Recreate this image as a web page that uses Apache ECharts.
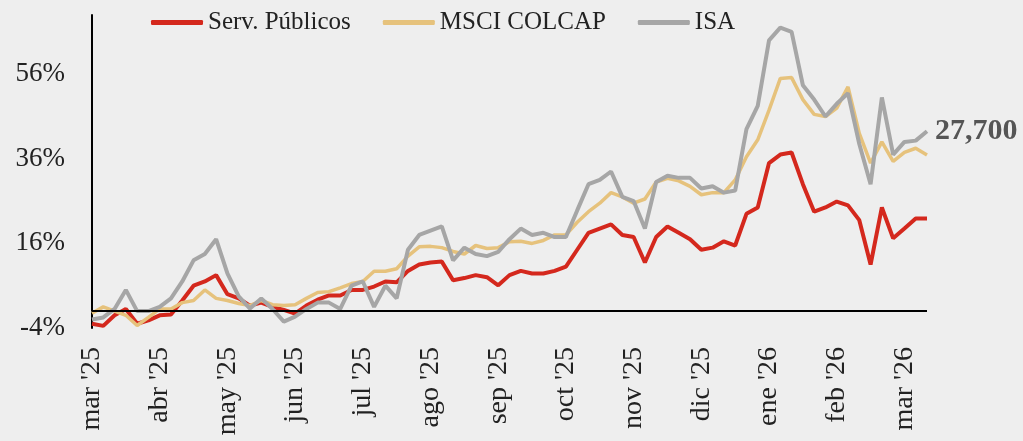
<!DOCTYPE html>
<html>
<head>
<meta charset="utf-8">
<script src="https://cdn.jsdelivr.net/npm/echarts@6/dist/echarts.min.js"></script>
<style>
  html, body { margin: 0; padding: 0; background: #eeeeee; }
  #chart { width: 1023px; height: 441px; }
</style>
</head>
<body>
<div id="chart"></div>
<script>
// month tick labels, one per month starting at mar '25
const monthLabels = ["mar '25", "abr '25", "may '25", "jun '25", "jul '25", "ago '25", "sep '25",
  "oct '25", "nov '25", "dic '25", "ene '26", "feb '26", "mar '26"];

// values read every ~1/6 of a month (%)
const servPublicos = [-3, -3.5, -1, 0.5, -3, -2.2, -1, -0.8, 2.5, 6, 7, 8.5, 4, 3, 1.3, 2, 1, 0.3, -0.6, 1.3,
  2.7, 3.7, 3.7, 5, 5, 5.8, 7, 6.8, 9.5, 11, 11.5, 11.7, 7.3, 7.8, 8.5, 8, 6.1, 8.5, 9.5, 8.9,
  8.9, 9.5, 10.5, 14.5, 18.5, 19.5, 20.5, 18, 17.5, 11.5, 17.5, 20, 18.5, 17, 14.5, 15, 16.5, 15.5, 23, 24.5,
  35, 37, 37.5, 30, 23.5, 24.5, 25.9, 25, 21.5, 11, 24.5, 17.2, 19.5, 21.9, 21.9];

const colcap = [-0.5, 1, 0, -1, -3.4, -1.5, 0.5, 0.5, 2, 2.5, 5, 3, 2.5, 1.8, 1.3, 2.5, 1.5, 1.3, 1.5, 3,
  4.4, 4.6, 5.5, 6.5, 7, 9.4, 9.4, 10, 13, 15.2, 15.3, 15, 14.1, 13.5, 15.5, 14.8, 15, 16.4, 16.5, 16,
  16.7, 18, 18, 21, 23.5, 25.5, 28, 27, 25.5, 26.5, 30.5, 31.4, 30.8, 29.5, 27.5, 28, 28, 31, 36.5, 40.5,
  47.5, 55, 55.2, 50, 46.5, 46, 48, 53, 42, 35, 40, 35.4, 37.5, 38.5, 36.9];

const isa = [-2, -1.5, 0.5, 5, 0, 0, 1, 3, 7, 12, 13.5, 17, 8.9, 3.5, 0.6, 3, 0.5, -2.5, -1.3, 0.5,
  2, 2, 0.5, 6, 7, 1, 6, 3, 14.5, 18, 19, 20, 12, 15, 13.5, 13, 14, 17, 19.5, 18,
  18.5, 17.5, 17.5, 23.8, 30, 31, 33, 27, 26, 19.5, 30.5, 32, 31.5, 31.5, 29, 29.5, 28, 28.5, 43, 48.5,
  64, 67, 66, 53.4, 50, 46, 49, 51.5, 39.5, 30, 50.5, 37, 40, 40.3, 42.5];

const isaLast = '27,700';

const STEP = 1 / 6;
const toPoints = (arr) => arr.map((v, i) => [i * STEP, v]);

const font = 'Liberation Serif';

let myChart = echarts.init(document.getElementById('chart'));
myChart.setOption({
  backgroundColor: '#eeeeee',
  animation: false,
  textStyle: { fontFamily: font },
  legend: {
    left: 146,
    top: 5,
    icon: 'roundRect',
    itemWidth: 52,
    itemHeight: 5,
    itemGap: 32,
    textStyle: { fontFamily: font, fontSize: 25, color: '#222' },
    data: ['Serv. Públicos', 'MSCI COLCAP', 'ISA']
  },
  grid: {
    left: 92,
    right: 96,
    top: 15,
    bottom: 113
  },
  xAxis: {
    type: 'value',
    min: 0,
    max: (isa.length - 1) * STEP,
    interval: 1,
    axisLine: { show: false },
    axisTick: { show: false },
    splitLine: { show: false },
    axisLabel: {
      rotate: 90,
      margin: 19,
      showMaxLabel: false,
      fontFamily: font,
      fontSize: 28,
      color: '#222',
      formatter: (v) => monthLabels[v] || ''
    }
  },
  yAxis: {
    type: 'value',
    min: -4,
    max: 70,
    interval: 20,
    axisLine: { show: true, lineStyle: { color: '#000', width: 2 } },
    axisTick: { show: false },
    splitLine: { show: false },
    axisLabel: {
      margin: 27,
      showMaxLabel: false,
      fontFamily: font,
      fontSize: 27,
      color: '#222',
      formatter: '{value}%'
    }
  },
  series: [
    {
      name: 'Serv. Públicos',
      type: 'line',
      showSymbol: false,
      color: '#d4281d',
      lineStyle: { width: 4 },
      data: toPoints(servPublicos),
      markLine: {
        silent: true,
        symbol: 'none',
        label: { show: false },
        lineStyle: { color: '#000', width: 2, type: 'solid' },
        data: [{ yAxis: 0 }]
      }
    },
    {
      name: 'MSCI COLCAP',
      type: 'line',
      showSymbol: false,
      color: '#e6c27c',
      lineStyle: { width: 3.5 },
      data: toPoints(colcap)
    },
    {
      name: 'ISA',
      type: 'line',
      showSymbol: false,
      color: '#a6a6a6',
      lineStyle: { width: 4 },
      data: toPoints(isa),
      endLabel: {
        show: true,
        formatter: isaLast,
        distance: 8,
        fontFamily: font,
        fontSize: 30,
        fontWeight: 'bold',
        color: '#555'
      }
    }
  ]
});
</script>
</body>
</html>
